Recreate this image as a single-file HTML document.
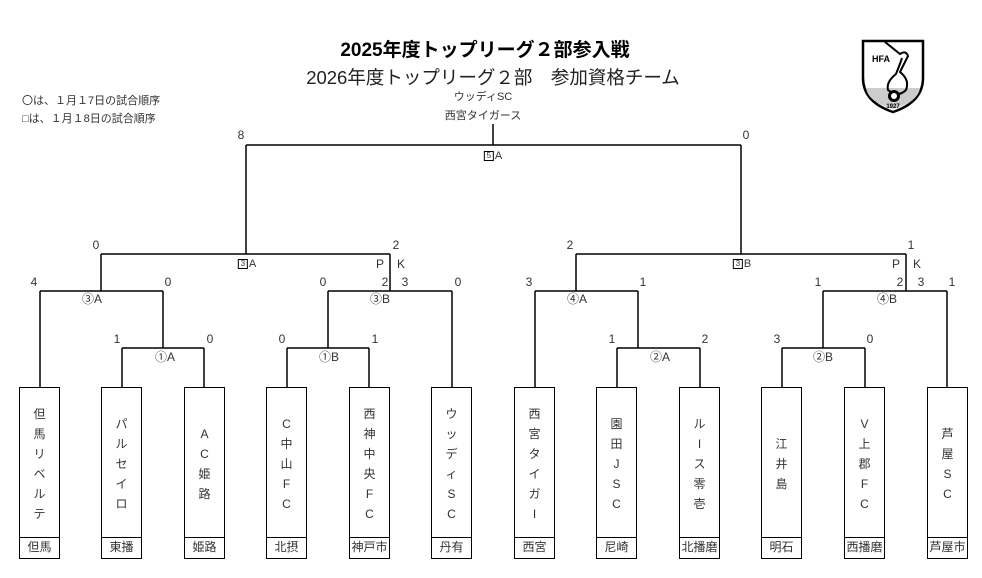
<!DOCTYPE html>
<html><head><meta charset="utf-8"><style>
body{margin:0;width:982px;height:578px;background:#fff;position:relative;overflow:hidden;font-family:"Liberation Sans","Noto Sans CJK JP",sans-serif;color:#333}
.t{position:absolute;white-space:nowrap;font-size:12px;line-height:14px;transform:translateX(-50%)}
.box{position:absolute;top:387px;width:41px;height:172px;border:1.5px solid #000;box-sizing:border-box}
.nm{position:absolute;top:0;left:0;right:0;height:151px;display:flex;flex-direction:column;justify-content:center;align-items:center;font-size:12px;line-height:20px}
.ar{position:absolute;left:0;right:0;bottom:0;height:20px;border-top:1.5px solid #000;text-align:center;font-size:12px;line-height:18px}
.sq{display:inline-block;border:1px solid #000;font-size:8px;line-height:8px;width:8px;text-align:center;margin-right:1px;vertical-align:1px}
</style></head><body>
<div class="t" style="left:485px;top:39px;font-size:19px;line-height:23px;font-weight:bold;color:#000">2025年度トップリーグ２部参入戦</div>
<div class="t" style="left:493px;top:67px;font-size:18.5px;line-height:22px;color:#222">2026年度トップリーグ２部　参加資格チーム</div>
<div class="t" style="left:483px;top:90px;font-size:11px">ウッディSC</div>
<div class="t" style="left:483px;top:109px;font-size:11px">西宮タイガース</div>
<div style="position:absolute;left:22px;top:92px;font-size:11px;line-height:18px;color:#333">〇は、１月１7日の試合順序<br>□は、１月１8日の試合順序</div>
<svg style="position:absolute;left:860px;top:38px" width="66" height="76" viewBox="0 0 66 76">
<path d="M3 3 H63 V40 Q63 64 33 74 Q3 64 3 40 Z" fill="#fff" stroke="#000" stroke-width="2.5"/>
<path d="M6 50 H60 Q58 64 33 71 Q8 64 6 50Z" fill="#ccc"/>
<text x="12" y="24" font-size="9" font-weight="bold" font-family="Liberation Sans" fill="#000">HFA</text>
<path d="M25 4 L40 16 Q46 12 48 18 Q44 26 40 34 Q50 42 46 52 Q38 60 28 52 Q26 44 36 36 Q40 26 42 20" fill="none" stroke="#000" stroke-width="2"/>
<circle cx="34" cy="58" r="6" fill="#000"/><circle cx="34" cy="58" r="3" fill="#fff"/>
<text x="33" y="70" font-size="6" text-anchor="middle" font-weight="bold" font-family="Liberation Sans" fill="#000">1927</text>
</svg>
<svg style="position:absolute;left:0;top:0" width="982" height="578">
<g stroke="#000" stroke-width="1.5" fill="none">
<path d="M493 124V145M246 145H741M246 145V254M741 145V254"/>
<path d="M101 254H390M101 254V291M390 254V291M576 254H906M576 254V291M906 254V291"/>
<path d="M40 291H163M40 291V387M163 291V348M122 348H204M122 348V387M204 348V387"/>
<path d="M328 291H452M328 291V348M452 291V387M287 348H369M287 348V387M369 348V387"/>
<path d="M535 291H638M535 291V387M638 291V348M617 348H700M617 348V387M700 348V387"/>
<path d="M823 291H947M823 291V348M947 291V387M782 348H865M782 348V387M865 348V387"/>
</g></svg>
<div class="t" style="left:241px;top:128px">8</div><div class="t" style="left:746px;top:128px">0</div>
<div class="t" style="left:493px;top:149px;font-size:11px"><span class="sq">5</span>A</div>
<div class="t" style="left:96px;top:238px">0</div><div class="t" style="left:396px;top:238px">2</div>
<div class="t" style="left:570px;top:238px">2</div><div class="t" style="left:911px;top:238px">1</div>
<div class="t" style="left:247px;top:257px;font-size:11px"><span class="sq">3</span>A</div>
<div class="t" style="left:742px;top:257px;font-size:11px"><span class="sq">3</span>B</div>
<div class="t" style="left:380px;top:257px">P</div><div class="t" style="left:401px;top:257px">K</div>
<div class="t" style="left:896px;top:257px">P</div><div class="t" style="left:917px;top:257px">K</div>
<div class="t" style="left:34px;top:275px">4</div><div class="t" style="left:168px;top:275px">0</div>
<div class="t" style="left:323px;top:275px">0</div><div class="t" style="left:385px;top:275px">2</div><div class="t" style="left:405px;top:275px">3</div><div class="t" style="left:458px;top:275px">0</div>
<div class="t" style="left:529px;top:275px">3</div><div class="t" style="left:643px;top:275px">1</div>
<div class="t" style="left:818px;top:275px">1</div><div class="t" style="left:900px;top:275px">2</div><div class="t" style="left:921px;top:275px">3</div><div class="t" style="left:952px;top:275px">1</div>
<div class="t" style="left:92px;top:292px">③A</div><div class="t" style="left:380px;top:292px">③B</div>
<div class="t" style="left:577px;top:292px">④A</div><div class="t" style="left:887px;top:292px">④B</div>
<div class="t" style="left:117px;top:332px">1</div><div class="t" style="left:210px;top:332px">0</div>
<div class="t" style="left:282px;top:332px">0</div><div class="t" style="left:375px;top:332px">1</div>
<div class="t" style="left:612px;top:332px">1</div><div class="t" style="left:705px;top:332px">2</div>
<div class="t" style="left:777px;top:332px">3</div><div class="t" style="left:870px;top:332px">0</div>
<div class="t" style="left:165px;top:350px">①A</div><div class="t" style="left:329px;top:350px">①B</div>
<div class="t" style="left:660px;top:350px">②A</div><div class="t" style="left:823px;top:350px">②B</div>

<div class="box" style="left:19px"><div class="nm"><span>但</span><span>馬</span><span>リ</span><span>ベ</span><span>ル</span><span>テ</span></div><div class="ar">但馬</div></div>
<div class="box" style="left:101px"><div class="nm"><span>パ</span><span>ル</span><span>セ</span><span>イ</span><span>ロ</span></div><div class="ar">東播</div></div>
<div class="box" style="left:184px"><div class="nm"><span>A</span><span>C</span><span>姫</span><span>路</span></div><div class="ar">姫路</div></div>
<div class="box" style="left:266px"><div class="nm"><span>C</span><span>中</span><span>山</span><span>F</span><span>C</span></div><div class="ar">北摂</div></div>
<div class="box" style="left:349px"><div class="nm"><span>西</span><span>神</span><span>中</span><span>央</span><span>F</span><span>C</span></div><div class="ar">神戸市</div></div>
<div class="box" style="left:431px"><div class="nm"><span>ウ</span><span>ッ</span><span>デ</span><span>ィ</span><span>S</span><span>C</span></div><div class="ar">丹有</div></div>
<div class="box" style="left:514px"><div class="nm"><span>西</span><span>宮</span><span>タ</span><span>イ</span><span>ガ</span><span>I</span></div><div class="ar">西宮</div></div>
<div class="box" style="left:596px"><div class="nm"><span>園</span><span>田</span><span>J</span><span>S</span><span>C</span></div><div class="ar">尼崎</div></div>
<div class="box" style="left:679px"><div class="nm"><span>ル</span><span>I</span><span>ス</span><span>零</span><span>壱</span></div><div class="ar">北播磨</div></div>
<div class="box" style="left:761px"><div class="nm"><span>江</span><span>井</span><span>島</span></div><div class="ar">明石</div></div>
<div class="box" style="left:844px"><div class="nm"><span>V</span><span>上</span><span>郡</span><span>F</span><span>C</span></div><div class="ar">西播磨</div></div>
<div class="box" style="left:927px"><div class="nm"><span>芦</span><span>屋</span><span>S</span><span>C</span></div><div class="ar">芦屋市</div></div>
</body></html>
